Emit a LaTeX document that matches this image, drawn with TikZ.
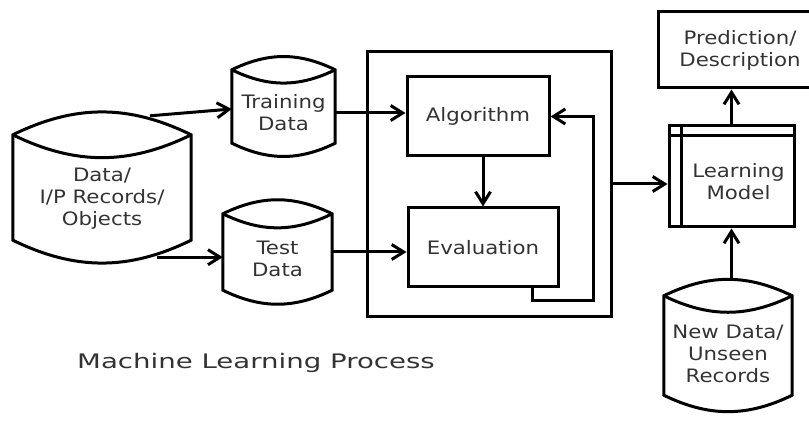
\documentclass[tikz,border=0pt]{standalone}
\usepackage{fontspec}
\newfontfamily\lblfont[FakeStretch=1.15]{DejaVu Sans}
\newfontfamily\ttlfont[FakeStretch=1.38]{DejaVu Sans}
\usetikzlibrary{arrows.meta}

\begin{document}
\begin{tikzpicture}[x=1pt,y=-1pt]
\tikzset{lbl/.style = {text=black!80, align=center, font=\lblfont\fontsize{18.5}{22}\selectfont}}
\tikzset{heavy/.style = {line width=3pt}}
\tikzset{box/.style = {lbl, draw, heavy, inner sep=0pt}}
\tikzset{db/.style = {lbl, inner sep=0pt}}
\tikzset{edge/.style = {heavy, -{Straight Barb[length=12pt,width=15pt]}}}

\useasboundingbox (0,0) rectangle (809,422);

\node[db, minimum width=178pt, minimum height=82pt] (data) at (102,199) {Data/\\I/P Records/\\Objects};
\node[db, minimum width=103pt, minimum height=60pt] (train) at (283.5,113) {Training\\Data};
\node[db, minimum width=109pt, minimum height=62pt] (test) at (277.5,259) {Test\\Data};
\node[db, minimum width=128pt, minimum height=82pt] (newdata) at (728,354) {New Data/\\Unseen\\Records};

\node[box, minimum width=244pt, minimum height=264pt] (proc) at (489,184) {};
\node[box, minimum width=142pt, minimum height=79pt] (algo) at (478,116.5) {Algorithm};
\node[box, minimum width=150pt, minimum height=79pt] (eval) at (483,247.5) {Evaluation};
\node[box, minimum width=125pt, minimum height=101pt] (model) at (731.5,176.5) {};
\node[lbl] (modeltxt) at (738.5,182) {Learning\\Model};
\node[box, minimum width=164pt, minimum height=76pt] (pred) at (740,50) {Prediction/\\Description};
\node[lbl, font=\ttlfont\fontsize{20}{24}\selectfont] (title) at (256,363) {Machine Learning Process};

\foreach \n/\c in {data/23,train/13,test/14,newdata/17}
{
\draw[heavy] (\n.west) -- ([yshift=\c pt]\n.north west) to[bend left=26] ([yshift=\c pt]\n.north east)
  -- (\n.south east) to[bend left=26] (\n.south west) -- (\n.west);
\draw[heavy] ([yshift=\c pt]\n.north west) to[bend right=26] ([yshift=\c pt]\n.north east);
}

\draw[heavy] ([xshift=14pt]model.north west) -- ([xshift=14pt]model.south west);
\draw[heavy] ([yshift=-11pt]model.north west) -- ([yshift=-11pt]model.north east);

\coordinate (d1) at ([shift={(48pt,42pt)}]data.north);
\coordinate (d2) at ([shift={(55pt,-17pt)}]data.south);
\coordinate (t1) at ([yshift=7pt]test.east);
\coordinate (nd) at ([yshift=33pt]newdata.north);

\draw[edge] (d1) -- ([yshift=4pt]train.west);
\draw[edge] (d2) -- (d2 -| test.west);
\draw[edge] (train.east) -- (train.east -| algo.west);
\draw[edge] (t1) -- (t1 -| eval.west);
\draw[edge] (algo.south -| eval.north) -- (eval.north);
\draw[edge] ([xshift=-27pt]eval.south east) -- ++(0,12) -| ([xshift=43pt]algo.east) -- (algo.east);
\draw[edge] (proc.east) -- (proc.east -| model.west);
\draw[edge] (model.north) -- (model.north |- pred.south);
\draw[edge] (model.south |- nd) -- (model.south);

\end{tikzpicture}
\end{document}
